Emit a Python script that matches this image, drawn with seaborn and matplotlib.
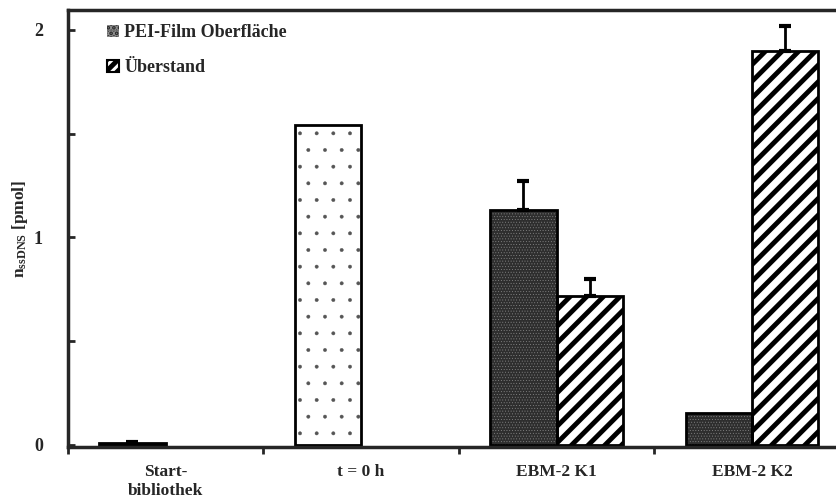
import pandas as pd
import numpy as np
import matplotlib
matplotlib.use("Agg")
import matplotlib.pyplot as plt
from matplotlib.patches import Patch, Rectangle
from matplotlib.ticker import MultipleLocator, FixedLocator
import seaborn as sns

# data
groups = ["Start-\nbibliothek", "t = 0 h", "EBM-2 K1", "EBM-2 K2"]
series = ["PEI-Film Oberfläche", "Überstand"]
pei_vals = [0.01, 1.54, 1.13, 0.155]
pei_err = [0.005, 0.0, 0.14, 0.0]
ueb_vals = [0.0, 0.0, 0.72, 1.90]
ueb_err = [0.0, 0.0, 0.08, 0.12]

df = pd.DataFrame({
    "Gruppe": groups * 2,
    "Serie": [series[0]] * 4 + [series[1]] * 4,
    "n": pei_vals + ueb_vals,
})
errs = pei_err + ueb_err

sns.set_style("ticks")
plt.rcParams["font.family"] = ["Liberation Serif", "DejaVu Serif"]
plt.rcParams["font.weight"] = "bold"
plt.rcParams["mathtext.fontset"] = "custom"
plt.rcParams["mathtext.rm"] = "Liberation Serif:bold"
plt.rcParams["mathtext.it"] = "Liberation Serif:bold"
plt.rcParams["mathtext.bf"] = "Liberation Serif:bold"
plt.rcParams["hatch.linewidth"] = 3.5

fig = plt.figure(figsize=(8.36, 5.03), dpi=100)
ax = fig.add_axes([0.0813, 0.1113, 0.9187, 0.869])

sns.barplot(data=df, x="Gruppe", y="n", hue="Serie", order=groups,
            hue_order=series, palette=["#2e2e2e", "white"], width=0.68,
            edgecolor="black", linewidth=2.0, errorbar=None, ax=ax, legend=False)


def thin_hatch(p, lw):
    if hasattr(p, "set_hatch_linewidth"):
        p.set_hatch_linewidth(lw)
    else:
        p._hatch_linewidth = lw


bars = [p for p in ax.patches if isinstance(p, Rectangle)][:8]
for i, p in enumerate(bars):
    h = p.get_height()
    if h <= 0:
        p.set_visible(False)
        continue
    if i == 1:
        # sparse grey dots, black outline on top
        p.set_facecolor("white")
        p.set_edgecolor("#555555")
        p.set_hatch(".")
        p.set_linewidth(0)
        thin_hatch(p, 0.3)
        ax.add_patch(Rectangle((p.get_x(), 0), p.get_width(), h, fill=False,
                               edgecolor="black", linewidth=2.0, zorder=p.get_zorder() + 0.1))
    elif i < 4:
        # dense dotted dark fill, outline on top
        p.set_facecolor("#2e2e2e")
        p.set_edgecolor("#8c8c8c")
        p.set_hatch("......")
        p.set_linewidth(0)
        thin_hatch(p, 0.3)
        ax.add_patch(Rectangle((p.get_x(), 0), p.get_width(), h, fill=False,
                               edgecolor="black", linewidth=2.0, zorder=p.get_zorder() + 0.1))
    else:
        p.set_facecolor("white")
        p.set_hatch("//")
    if errs[i] > 0:
        ax.errorbar(p.get_x() + p.get_width() / 2, h, yerr=[[0], [errs[i]]],
                    fmt="none", ecolor="black", elinewidth=2, capsize=4, capthick=3)

ax.set_ylim(-0.01, 2.096)
ax.set_xlim(-0.5, 3.43)
ax.yaxis.set_major_locator(MultipleLocator(1))
ax.yaxis.set_minor_locator(MultipleLocator(0.5))
ax.tick_params(axis="y", which="both", direction="in", length=5, width=2, labelsize=13, pad=18)
ax.xaxis.set_minor_locator(FixedLocator([-0.5, 0.5, 1.5, 2.5, 3.5]))
ax.tick_params(axis="x", which="major", length=0, labelsize=12.5, pad=12)
ax.tick_params(axis="x", which="minor", direction="out", length=5, width=2)
for lab in ax.get_xticklabels() + ax.get_yticklabels():
    lab.set_fontweight("bold")
    lab.set_linespacing(1.25)
ax.set_xlabel("")
ax.set_ylabel(r"n$_{\mathrm{ssDNS}}$ [pmol]", fontsize=12.5, fontweight="bold", labelpad=3)

for s in ["left", "bottom", "top"]:
    ax.spines[s].set_linewidth(2.5)
ax.spines["right"].set_visible(False)

h_pei = Patch(facecolor="#2e2e2e", edgecolor="#8c8c8c", hatch="...", linewidth=0, label=series[0])
h_ueb = Patch(facecolor="white", edgecolor="black", hatch="///", linewidth=1.5, label=series[1])
leg = ax.legend(handles=[h_pei, h_ueb], loc="upper left", bbox_to_anchor=(0.03, 1.005),
                frameon=False, prop={"family": "Liberation Serif", "weight": "bold", "size": 13},
                handlelength=0.65, handleheight=0.65, handletextpad=0.3, labelspacing=1.0)

fig.savefig("out.png", dpi=100)
